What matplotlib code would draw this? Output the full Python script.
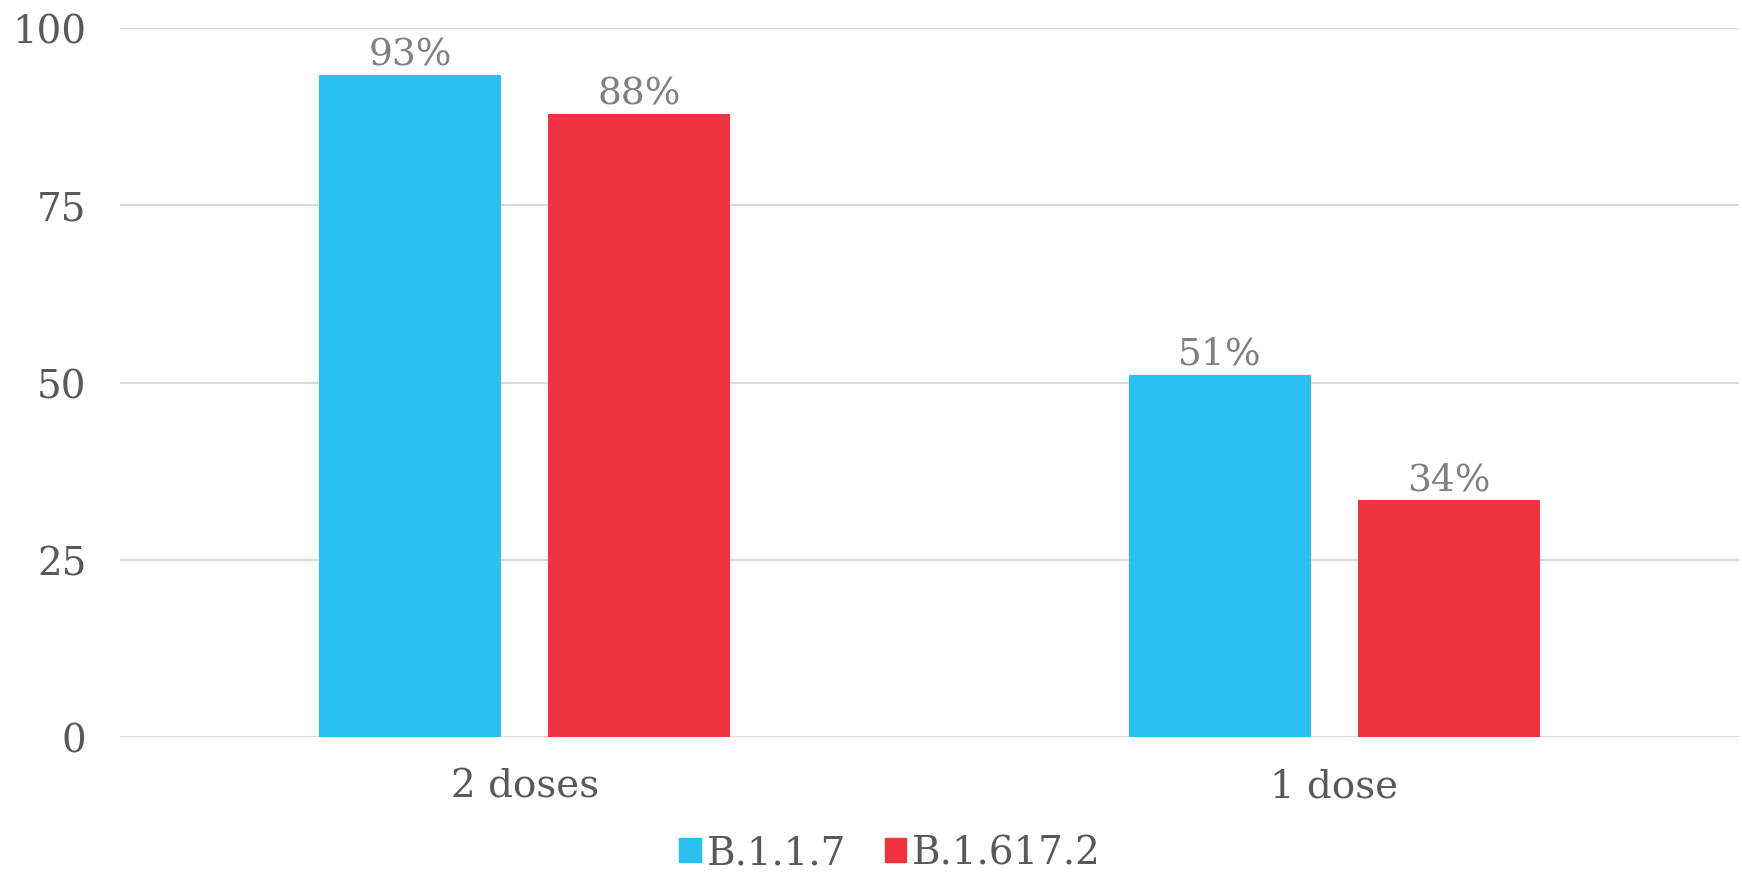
import matplotlib
matplotlib.use("Agg")
import matplotlib.pyplot as plt
import numpy as np
from matplotlib.patches import Patch

categories = ["2 doses", "1 dose"]
series_names = ["B.1.1.7", "B.1.617.2"]
b117 = [93.4, 51.1]
b16172 = [87.9, 33.4]
b117_labels = ["93%", "51%"]
b16172_labels = ["88%", "34%"]
yticks = [0, 25, 50, 75, 100]
colors = ["#2BC0F0", "#EE3440"]

plt.rcParams['font.family'] = ['DejaVu Serif']

fig = plt.figure(figsize=(17.42, 8.79), dpi=100)
ax = fig.add_axes([0.0689, 0.1604, 0.9294, 0.8066])

x = np.arange(len(categories))
w = 0.225
off = 0.1415
bars1 = ax.bar(x - off, b117, w, color=colors[0], zorder=3)
bars2 = ax.bar(x + off, b16172, w, color=colors[1], zorder=3)

for bars, labs in ((bars1, b117_labels), (bars2, b16172_labels)):
    for b, l in zip(bars, labs):
        ax.annotate(l, (b.get_x() + b.get_width() / 2, b.get_height()),
                    xytext=(0, 2), textcoords="offset points",
                    ha="center", va="bottom", fontsize=27, color="#808080")

ax.set_xlim(-0.5, 1.5)
ax.set_ylim(0, 100)
ax.set_yticks(yticks)
ax.set_yticklabels([str(t) for t in yticks])
ax.set_xticks(x)
ax.set_xticklabels(categories)
ax.tick_params(axis="both", length=0, labelsize=28, labelcolor="#595959")
ax.tick_params(axis="y", pad=24)
ax.tick_params(axis="x", pad=22)
ax.grid(axis="y", color="#D9D9D9", linewidth=1.5, zorder=0)
for s in ax.spines.values():
    s.set_visible(False)

handles = [Patch(color=c) for c in colors]
leg = fig.legend(handles, series_names, loc="center", bbox_to_anchor=(0.511, 0.028),
                 ncol=2, frameon=False, fontsize=28, handlelength=0.55, handleheight=0.55,
                 handletextpad=0.15, columnspacing=1.0, labelcolor="#595959")

fig.savefig("out.png", dpi=100)
